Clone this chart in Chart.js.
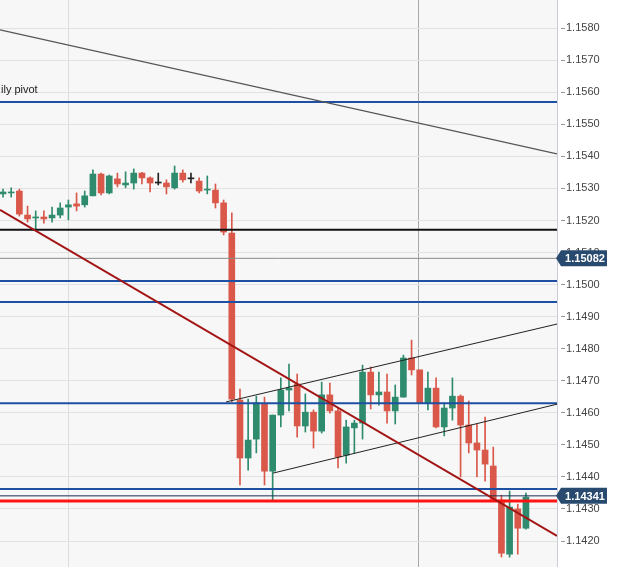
<!DOCTYPE html>
<html>
<head>
<meta charset="utf-8">
<title>EUR/USD</title>
<script src="https://cdn.jsdelivr.net/npm/chart.js@4.4.1/dist/chart.umd.min.js"></script>
<style>
  html, body { margin: 0; padding: 0; background: #fff; }
  canvas { display: block; }
</style>
</head>
<body>
<canvas id="chart" width="625" height="567"></canvas>
<script>
// candles, oldest first (x = bar number)
const opens = [
  1.15283, 1.15286, 1.15292, 1.15217, 1.15208, 1.15211, 1.15208, 1.15217, 1.15242, 1.15252,
  1.15249, 1.15277, 1.15345, 1.15286, 1.15330, 1.15311, 1.15317, 1.15348, 1.15333, 1.15317,
  1.15317, 1.15302, 1.15348, 1.15330, 1.15323, 1.15295, 1.15295, 1.15255, 1.15161, 1.14640,
  1.14459, 1.14518, 1.14627, 1.14418, 1.14593, 1.14671, 1.14690, 1.14559, 1.14602, 1.14543,
  1.14656, 1.14606, 1.14468, 1.14553, 1.14568, 1.14727, 1.14656, 1.14665, 1.14606, 1.14649,
  1.14771, 1.14734, 1.14631, 1.14677, 1.14556, 1.14615, 1.14652, 1.14562, 1.14506, 1.14484,
  1.14434, 1.14328, 1.14159, 1.14300, 1.14240
];
const highs = [
  1.15298, 1.15302, 1.15298, 1.15245, 1.15230, 1.15230, 1.15242, 1.15255, 1.15264, 1.15286,
  1.15292, 1.15358, 1.15348, 1.15342, 1.15348, 1.15352, 1.15361, 1.15350, 1.15336, 1.15348,
  1.15327, 1.15370, 1.15358, 1.15348, 1.15333, 1.15339, 1.15314, 1.15264, 1.15224, 1.14674,
  1.14643, 1.14652, 1.14649, 1.14593, 1.14709, 1.14752, 1.14721, 1.14659, 1.14609, 1.14696,
  1.14693, 1.14615, 1.14577, 1.14577, 1.14749, 1.14743, 1.14727, 1.14721, 1.14687, 1.14780,
  1.14827, 1.14734, 1.14727, 1.14709, 1.14631, 1.14709, 1.14656, 1.14637, 1.14565, 1.14587,
  1.14493, 1.14343, 1.14356, 1.14315, 1.14350
];
const lows = [
  1.15273, 1.15273, 1.15214, 1.15195, 1.15171, 1.15192, 1.15195, 1.15208, 1.15202, 1.15230,
  1.15242, 1.15277, 1.15280, 1.15283, 1.15305, 1.15302, 1.15298, 1.15314, 1.15289, 1.15311,
  1.15283, 1.15298, 1.15320, 1.15317, 1.15286, 1.15283, 1.15239, 1.15155, 1.14634, 1.14375,
  1.14421, 1.14475, 1.14375, 1.14328, 1.14556, 1.14606, 1.14524, 1.14540, 1.14490, 1.14537,
  1.14599, 1.14428, 1.14443, 1.14475, 1.14518, 1.14612, 1.14624, 1.14568, 1.14565, 1.14649,
  1.14718, 1.14631, 1.14609, 1.14553, 1.14528, 1.14577, 1.14400, 1.14475, 1.14400, 1.14387,
  1.14328, 1.14150, 1.14150, 1.14159, 1.14237
];
const closes = [
  1.15289, 1.15289, 1.15220, 1.15205, 1.15211, 1.15205, 1.15217, 1.15239, 1.15249, 1.15245,
  1.15277, 1.15345, 1.15286, 1.15339, 1.15314, 1.15317, 1.15348, 1.15333, 1.15317, 1.15317,
  1.15305, 1.15348, 1.15327, 1.15330, 1.15292, 1.15298, 1.15255, 1.15164, 1.14643, 1.14459,
  1.14515, 1.14631, 1.14418, 1.14593, 1.14671, 1.14677, 1.14559, 1.14602, 1.14543, 1.14656,
  1.14606, 1.14462, 1.14556, 1.14568, 1.14727, 1.14656, 1.14665, 1.14606, 1.14649, 1.14771,
  1.14734, 1.14631, 1.14677, 1.14556, 1.14615, 1.14652, 1.14562, 1.14506, 1.14484, 1.14440,
  1.14328, 1.14162, 1.14306, 1.14240, 1.14337
];

const yTicks = [1.1420, 1.1430, 1.1440, 1.1450, 1.1460, 1.1470, 1.1480, 1.1490,
                1.1500, 1.1510, 1.1520, 1.1530, 1.1540, 1.1550, 1.1560, 1.1570, 1.1580];
const yMin = 1.14119, yMax = 1.15888;
const xMin = -0.37, xMax = 67.8;
const sessionLines = [7.96, 50.81];

const pivotLevel = 1.15570;
const blueLevels = [1.15570, 1.15011, 1.14946, 1.14630, 1.14362];
const blackLevel = 1.15171;
const redLevel = 1.14325;
const priceTags = [1.15082, 1.14341];

const grayTrend = [[xMin, 1.15795], [xMax, 1.15408]];
const redTrend = [[xMin, 1.15233], [xMax, 1.14216]];
const channelTop = [[27.3, 1.14634], [xMax, 1.14877]];
const channelBottom = [[33.06, 1.14412], [xMax, 1.14627]];

const GREEN = '#2e8b6e', RED = '#d9584a', DOJI = '#222';

function candleColor(i) {
  if (closes[i] > opens[i]) return GREEN;
  if (closes[i] < opens[i]) return RED;
  return DOJI;
}

function hline(price, color, width) {
  return {
    type: 'line',
    data: [{x: xMin, y: price}, {x: xMax, y: price}],
    borderColor: color, borderWidth: width,
    pointRadius: 0, order: 1
  };
}
function segment(points, color, width) {
  return {
    type: 'line',
    data: points.map(p => ({x: p[0], y: p[1]})),
    borderColor: color, borderWidth: width,
    pointRadius: 0, order: 0
  };
}

const wicks = opens.map((o, i) => ({x: i, y: [lows[i], highs[i]]}));
const bodies = opens.map((o, i) => ({x: i, y: [Math.min(o, closes[i]), Math.max(o, closes[i])]}));

const datasets = [
  {
    type: 'bar', data: wicks, grouped: false, barThickness: 1,
    backgroundColor: ctx => candleColor(ctx.dataIndex), order: 10
  },
  {
    type: 'bar', data: bodies, grouped: false, barThickness: 6, minBarLength: 1,
    backgroundColor: ctx => candleColor(ctx.dataIndex), order: 9
  },
  ...blueLevels.map(v => hline(v, '#1d4fa3', 2)),
  hline(blackLevel, '#111', 2),
  hline(priceTags[0], '#8a8a8a', 1),
  hline(priceTags[1], '#1b2f55', 1),
  hline(redLevel, '#ff1414', 3),
  segment(grayTrend, '#555', 1.2),
  segment(redTrend, '#a31515', 2),
  segment(channelTop, '#222', 1),
  segment(channelBottom, '#222', 1)
];

const backdrop = {
  id: 'backdrop',
  beforeDraw(chart) {
    const {ctx, chartArea: a} = chart;
    ctx.save();
    ctx.fillStyle = '#fff';
    ctx.fillRect(0, 0, chart.width, chart.height);
    ctx.fillStyle = '#f7f7f7';
    ctx.fillRect(a.left, a.top, a.right - a.left, a.bottom - a.top);
    ctx.restore();
  }
};

const labels = {
  id: 'labels',
  afterDraw(chart) {
    const {ctx, chartArea: a} = chart;
    const y = chart.scales.y;
    ctx.save();
    ctx.font = '11px "Liberation Sans", Arial, sans-serif';
    ctx.fillStyle = '#1a1a1a';
    ctx.textBaseline = 'alphabetic';
    ctx.textAlign = 'left';
    ctx.fillText('ily pivot', 1, y.getPixelForValue(pivotLevel) - 9);

    for (const v of priceTags) {
      const py = y.getPixelForValue(v);
      ctx.fillStyle = '#284a6e';
      ctx.beginPath();
      ctx.moveTo(a.right - 1, py);
      ctx.lineTo(a.right + 4, py - 8);
      ctx.lineTo(a.right + 50, py - 8);
      ctx.lineTo(a.right + 50, py + 8);
      ctx.lineTo(a.right + 4, py + 8);
      ctx.closePath();
      ctx.fill();
      ctx.fillStyle = '#fff';
      ctx.font = 'bold 11px "Liberation Sans", Arial, sans-serif';
      ctx.textAlign = 'center';
      ctx.textBaseline = 'middle';
      ctx.fillText(v.toFixed(5), a.right + 28, py + 1);
    }
    ctx.restore();
  }
};

new Chart(document.getElementById('chart'), {
  type: 'bar',
  data: {datasets},
  options: {
    responsive: false,
    animation: false,
    layout: {padding: 0},
    plugins: {legend: {display: false}, tooltip: {enabled: false}},
    scales: {
      x: {
        type: 'linear', min: xMin, max: xMax, offset: false,
        grid: {
          offset: false, drawTicks: false,
          color: ctx => ctx.index === 1 ? '#a8a8a8' : '#dcdcdc'
        },
        border: {display: false},
        ticks: {display: false},
        afterBuildTicks: s => { s.ticks = sessionLines.map(v => ({value: v})); },
        afterFit: s => { s.height = 0; s.paddingLeft = 0; s.paddingRight = 0; }
      },
      y: {
        position: 'right', min: yMin, max: yMax, beginAtZero: false,
        grid: {
          color: '#e2e2e2', tickLength: 8, tickColor: '#999',
          tickBorderDash: [0, 3, 4, 100]
        },
        border: {color: '#c8cdd8'},
        ticks: {
          padding: 1, color: '#444',
          font: {family: '"Liberation Sans", Arial, sans-serif', size: 11},
          callback: v => v.toFixed(4)
        },
        afterBuildTicks: s => { s.ticks = yTicks.map(v => ({value: v})); },
        afterFit: s => { s.width = 68; s.paddingTop = 0; s.paddingBottom = 0; }
      }
    }
  },
  plugins: [backdrop, labels]
});
</script>
</body>
</html>
